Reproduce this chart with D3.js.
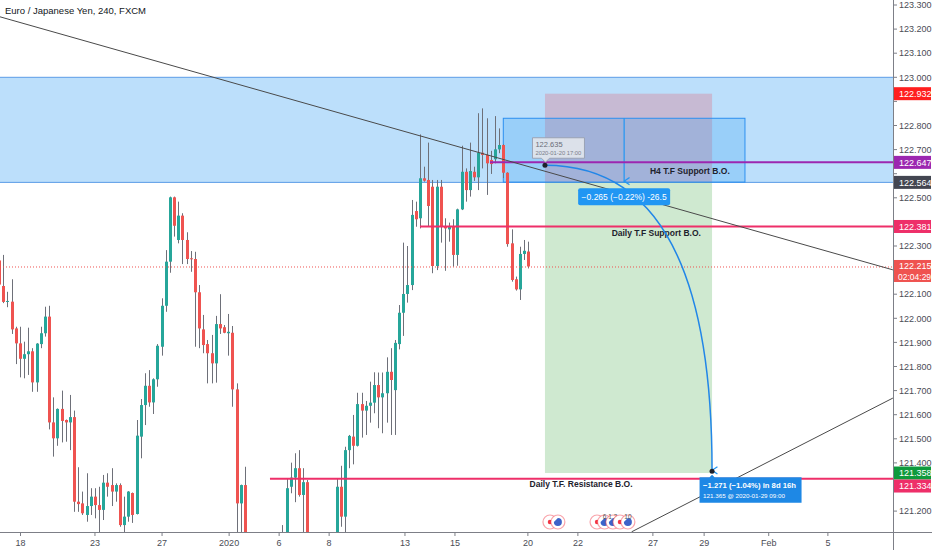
<!DOCTYPE html>
<html><head><meta charset="utf-8">
<script src="https://cdn.jsdelivr.net/npm/d3@7"></script>
<style>
body{margin:0;background:#fff;}
svg{display:block;font-family:"Liberation Sans",Arial,sans-serif;}
</style>
</head><body>
<svg id="chart" width="932" height="550"></svg>
<script>
// ---------------- DATA ----------------
const title = "Euro / Japanese Yen, 240, FXCM";
// 4h candles (bar index 0..127)
const opens  = [122.24,122.134,122.068,122.069,121.958,121.896,121.832,121.851,121.863,121.734,121.893,121.938,122.007,121.568,121.502,121.624,121.578,121.568,121.590,121.239,121.232,121.184,121.221,121.260,121.225,121.205,121.318,121.308,121.281,121.308,121.142,121.177,121.275,121.188,121.509,121.640,121.720,121.651,121.747,121.882,122.052,122.235,122.502,122.325,122.426,122.325,122.249,122.246,122.108,121.954,121.893,121.855,121.813,121.976,121.963,121.938,121.940,121.705,121.232,121.308,121.08,121.00,121.04,120.99,121.02,121.05,121.01,121.04,121.06,121.10,121.301,121.339,121.378,121.267,121.320,121.05,120.98,121.01,121.03,121.00,121.04,121.07,121.301,121.177,121.453,121.509,121.471,121.644,121.617,121.637,121.650,121.723,121.672,121.689,121.778,121.702,121.893,122.023,122.101,122.138,122.445,122.415,122.581,122.574,122.546,122.217,122.546,122.383,122.369,122.383,122.263,122.452,122.608,122.532,122.608,122.585,122.687,122.678,122.657,122.660,122.701,122.719,122.604,122.311,122.162,122.120,122.267,122.277];
const highs  = [122.30,122.263,122.110,122.162,121.965,121.965,121.903,121.961,121.876,121.897,121.965,122.048,122.052,121.672,121.626,121.700,121.580,121.682,121.617,121.382,121.281,121.357,121.295,121.295,121.301,121.350,121.357,121.378,121.315,121.315,121.260,121.283,121.277,121.578,121.665,121.772,121.785,121.751,121.893,122.083,122.283,122.505,122.505,122.484,122.436,122.357,122.279,122.276,122.138,122.014,121.910,121.931,122.010,122.100,121.972,122.018,121.968,121.730,121.310,121.384,121.10,121.06,121.09,121.05,121.08,121.09,121.07,121.10,121.142,121.337,121.401,121.440,121.453,121.378,121.329,121.09,121.04,121.07,121.08,121.06,121.10,121.336,121.388,121.467,121.516,121.599,121.691,121.691,121.657,121.737,121.776,121.775,121.775,121.838,121.876,121.910,122.055,122.314,122.300,122.491,122.484,122.763,122.629,122.729,122.574,122.574,122.574,122.415,122.397,122.411,122.455,122.716,122.622,122.729,122.629,122.851,122.871,122.830,122.695,122.839,122.788,122.722,122.606,122.369,122.173,122.297,122.325,122.318];
const lows   = [122.12,122.063,122.046,121.935,121.810,121.755,121.751,121.765,121.695,121.695,121.876,121.924,121.539,121.426,121.471,121.485,121.488,121.453,121.197,121.197,121.184,121.156,121.184,121.170,121.080,121.163,121.260,121.221,121.239,121.135,121.090,121.156,121.151,121.186,121.419,121.557,121.633,121.603,121.716,121.845,122.027,122.189,122.339,122.311,122.225,122.225,122.193,121.882,121.876,121.855,121.730,121.730,121.733,121.935,121.938,121.845,121.633,121.050,121.050,121.030,120.98,120.95,120.97,120.93,120.98,120.99,120.96,121.00,121.02,121.08,121.274,121.237,121.260,121.100,121.000,120.95,120.92,120.96,120.99,120.95,121.00,121.06,121.135,121.100,121.378,121.394,121.468,121.505,121.516,121.567,121.606,121.544,121.523,121.567,121.516,121.516,121.871,121.927,122.065,122.117,122.380,122.373,122.567,122.383,122.187,122.200,122.314,122.197,122.318,122.214,122.218,122.449,122.484,122.505,122.570,122.532,122.622,122.512,122.599,122.643,122.685,122.582,122.297,122.152,122.115,122.076,122.242,122.207];
const closes = [122.14,122.068,122.072,121.954,121.896,121.832,121.851,121.863,121.734,121.895,121.938,122.007,121.568,121.502,121.624,121.574,121.568,121.590,121.239,121.229,121.191,121.221,121.260,121.225,121.205,121.318,121.301,121.281,121.308,121.142,121.177,121.281,121.184,121.513,121.640,121.720,121.651,121.747,121.886,122.052,122.235,122.502,122.384,122.426,122.325,122.246,122.245,122.108,121.958,121.889,121.855,121.813,121.976,121.958,121.940,121.944,121.705,121.232,121.308,121.080,121.00,121.04,120.99,121.02,121.05,121.01,121.04,121.06,121.10,121.295,121.339,121.378,121.267,121.320,121.050,120.98,121.01,121.03,121.00,121.04,121.07,121.301,121.177,121.453,121.512,121.471,121.644,121.617,121.637,121.650,121.723,121.672,121.689,121.778,121.744,121.898,122.023,122.101,122.138,122.429,122.411,122.581,122.571,122.466,122.217,122.546,122.380,122.373,122.383,122.263,122.452,122.608,122.532,122.611,122.585,122.687,122.678,122.643,122.640,122.701,122.719,122.604,122.308,122.159,122.120,122.267,122.280,122.215];

// date axis: labels at bar-index positions
const dateTickPos    = [5.13,23.0,39.1,55.2,67.2,79.2,97.4,109.4,126.9,138.9,156.9,169.2,184.7,198.9];
const dateTickLabels = ["18","23","27","2020","6","8","13","15","20","22","27","29","Feb","5"];
// price axis ticks
const priceTicks = [121.2,121.3,121.4,121.5,121.6,121.7,121.8,121.9,122.0,122.1,122.2,122.3,122.4,122.5,122.6,122.7,122.8,122.9,123.0,123.1,123.2,123.3];

// drawings
const zoneTop = 123.000, zoneBottom = 122.564;
const posStart = 131, posEnd = 171.1, posEntry = 122.564, posStop = 122.932, posTarget = 121.358;
const rangeStart = 121, rangeEnd = 179, rangeTop = 122.830, rangeBottom = 122.565, rangeArrowAt = 150;
const rangeLabel = "\u22120.265 (\u22120.22%) -26.5";
const hLines = [
  {price:122.647, from:117.8, color:"#9c27b0", label:"H4 T.F Support B.O.", labelAt:156.2, dy:11.5},
  {price:122.381, from:101.0, color:"#ee2f69", label:"Daily T.F Support B.O.", labelAt:147.0, dy:9.5},
  {price:121.334, from:65.0,  color:"#ee2f69", label:"Daily T.F. Resistance B.O.", labelAt:127.3, dy:8.5}
];
const trendLines = [
  [[0,123.252],[214.5,122.201]],
  [[151.8,121.114],[214.5,121.669]]
];
const currentPrice = 122.215, countdown = "02:04:29";
const forecastFrom = {i:131, price:122.635, l1:"122.635", l2:"2020-01-20 17:00"};
const forecastTo   = {i:171.1, price:121.365, l1:"\u22121.271 (\u22121.04%) in 8d 16h", l2:"121.365 @ 2020-01-29  09:00"};
const priceLabels = [
  {p:122.932, c:"#ff1f1f"},
  {p:122.647, c:"#9c27b0"},
  {p:122.564, c:"#434651"},
  {p:122.381, c:"#ee2f69"},
  {p:121.358, c:"#0e9a3c"},
  {p:121.334, c:"#ee2f69"}
];
const events = [
  {i:132.2, k:"eco"},{i:134.1, k:"idea"},
  {i:143.5, k:"eco"},{i:145.3, k:"idea", t:"6"},{i:147.3, k:"idea", t:"1 2"},{i:149.0, k:"eco"},{i:150.9, k:"idea", t:"10"}
];

// ---------------- CHART ----------------
const W = 932, H = 550, plotR = 893, plotB = 532;
const svg = d3.select("#chart");
const x = d3.scaleLinear().domain([0,127]).range([-0.87,528.3]);
const y = d3.scaleLinear().domain([121.1,123.3]).range([535.2,5]);

const defs = svg.append("defs");
defs.append("clipPath").attr("id","plot").append("rect").attr("x",0).attr("y",0).attr("width",plotR).attr("height",plotB);
defs.append("marker").attr("id","arrowB").attr("viewBox","0 0 10 10").attr("refX",5).attr("refY",9)
  .attr("markerWidth",9).attr("markerHeight",9).attr("orient","auto-start-reverse").attr("markerUnits","userSpaceOnUse")
  .append("path").attr("d","M1,3 L5,9 L9,3").attr("fill","none").attr("stroke","#2196f3").attr("stroke-width",1.4);

const g = svg.append("g").attr("clip-path","url(#plot)");

// zone
g.append("rect").attr("x",0).attr("width",plotR)
  .attr("y",y(zoneTop)).attr("height",y(zoneBottom)-y(zoneTop))
  .attr("fill","rgba(33,150,243,0.3)");
g.append("line").attr("x1",0).attr("x2",plotR).attr("y1",y(zoneTop)).attr("y2",y(zoneTop)).attr("stroke","#5a9be6").attr("stroke-width",1);
g.append("line").attr("x1",0).attr("x2",plotR).attr("y1",y(zoneBottom)).attr("y2",y(zoneBottom)).attr("stroke","#5a9be6").attr("stroke-width",1);

// position boxes
g.append("rect").attr("x",x(posStart)).attr("width",x(posEnd)-x(posStart))
  .attr("y",y(posStop)).attr("height",y(posEntry)-y(posStop)).attr("fill","rgba(242,54,69,0.22)");
g.append("rect").attr("x",x(posStart)).attr("width",x(posEnd)-x(posStart))
  .attr("y",y(posEntry)).attr("height",y(posTarget)-y(posEntry)).attr("fill","rgba(76,175,80,0.27)");

// price range tool
g.append("rect").attr("x",x(rangeStart)).attr("width",x(rangeEnd)-x(rangeStart))
  .attr("y",y(rangeTop)).attr("height",y(rangeBottom)-y(rangeTop))
  .attr("fill","rgba(33,150,243,0.22)").attr("stroke","#2b8ff0").attr("stroke-width",1);
g.append("line").attr("x1",x(rangeArrowAt)).attr("x2",x(rangeArrowAt)).attr("y1",y(rangeTop)).attr("y2",y(rangeBottom)-1)
  .attr("stroke","#2196f3").attr("stroke-width",1.2).attr("marker-end","url(#arrowB)");

// candles
const idx = d3.range(opens.length);
const cg = g.append("g");
cg.selectAll("line.w").data(idx).join("line").attr("class","w")
  .attr("x1",i=>Math.round(x(i))+0.5).attr("x2",i=>Math.round(x(i))+0.5)
  .attr("y1",i=>y(highs[i])).attr("y2",i=>y(lows[i]))
  .attr("stroke","#6e7079").attr("stroke-width",1);
cg.selectAll("rect.b").data(idx).join("rect").attr("class","b")
  .attr("x",i=>Math.round(x(i))-1).attr("width",3)
  .attr("y",i=>y(Math.max(opens[i],closes[i])))
  .attr("height",i=>Math.max(1,Math.abs(y(opens[i])-y(closes[i]))))
  .attr("fill",i=>closes[i]>=opens[i]?"#26a69a":"#ef5350");

// current price line
g.append("line").attr("x1",0).attr("x2",plotR).attr("y1",y(currentPrice)+0.5).attr("y2",y(currentPrice)+0.5)
  .attr("stroke","#ef5350").attr("stroke-width",1).attr("stroke-dasharray","1,2");

// horizontal lines
hLines.forEach(h=>{
  g.append("line").attr("x1",x(h.from)).attr("x2",plotR).attr("y1",y(h.price)).attr("y2",y(h.price))
    .attr("stroke",h.color).attr("stroke-width",2);
  g.append("text").attr("x",x(h.labelAt)).attr("y",y(h.price)+h.dy).text(h.label)
    .attr("font-size",8.5).attr("font-weight","bold").attr("fill","#1e222d");
});

// trend lines
trendLines.forEach(t=>{
  g.append("line").attr("x1",x(t[0][0])).attr("y1",y(t[0][1])).attr("x2",x(t[1][0])).attr("y2",y(t[1][1]))
    .attr("stroke","#4a4a4a").attr("stroke-width",1);
});

// forecast
const sx = x(forecastFrom.i), sy = y(forecastFrom.price), tx = x(forecastTo.i), ty = y(forecastTo.price);
g.append("path").attr("d",`M${sx},${sy} Q${tx},${sy} ${tx},${ty-1}`)
  .attr("fill","none").attr("stroke","#2186e8").attr("stroke-width",1.5).attr("marker-end","url(#arrowB)");
g.append("circle").attr("cx",sx).attr("cy",sy).attr("r",2.5).attr("fill","#1e222d");
g.append("circle").attr("cx",tx).attr("cy",ty).attr("r",2.5).attr("fill","#1e222d");

// range label (above the curve)
const rx = x(rangeArrowAt);
const rby = y(rangeBottom);
g.append("rect").attr("x",rx-46).attr("y",rby+6).attr("width",92).attr("height",17).attr("rx",2).attr("fill","#2196f3");
g.append("text").attr("x",rx).attr("y",rby+18).attr("text-anchor","middle").attr("fill","#fff").attr("font-size",8.5).text(rangeLabel);

// source label
g.append("path").attr("d",`M${sx-12.5},${sy-27.5} h52 v20.5 h-35 l-4,4 l-4,-4 h-9 z`)
  .attr("fill","rgba(225,229,236,0.92)").attr("stroke","#9aa3b5").attr("stroke-width",1);
g.append("text").attr("x",sx-9.5).attr("y",sy-18.5).attr("font-size",7.5).attr("fill","#6a6d78").text(forecastFrom.l1);
g.append("text").attr("x",sx-9.5).attr("y",sy-10).attr("font-size",5.8).attr("fill","#7a7d88").text(forecastFrom.l2);
// target label
g.append("path").attr("d",`M${tx-12.5},${ty+6} h10 l2.5,-2.5 l2.5,2.5 h87 v25.5 h-102 z`).attr("fill","#1e88e5");
g.append("text").attr("x",tx-9).attr("y",ty+16.5).attr("font-size",8).attr("font-weight","bold").attr("fill","#fff")
  .attr("textLength",93).attr("lengthAdjust","spacingAndGlyphs").text(forecastTo.l1);
g.append("text").attr("x",tx-9).attr("y",ty+27).attr("font-size",6.2).attr("fill","#fff")
  .attr("textLength",82).attr("lengthAdjust","spacingAndGlyphs").text(forecastTo.l2);

// events
const ev = g.append("g");
events.forEach(e=>{
  const ex = x(e.i), ey = 522;
  ev.append("circle").attr("cx",ex).attr("cy",ey).attr("r",7).attr("fill","#fff").attr("stroke","rgba(242,54,69,0.45)").attr("stroke-width",1.2);
  if(e.k==="eco") ev.append("circle").attr("cx",ex).attr("cy",ey).attr("r",2.2).attr("fill","#f23645");
  else ev.append("path").attr("d",`M${ex-4},${ey} a4,4 0 0 0 8,0 a4,4 0 0 0 -4,-4 z`).attr("fill","#3d63c9");
  if(e.t) ev.append("text").attr("x",ex).attr("y",ey-3).attr("text-anchor","middle").attr("font-size",6.5).attr("fill","#555").text(e.t);
});

// ---------------- AXES ----------------
svg.append("line").attr("x1",0).attr("x2",W).attr("y1",plotB+0.5).attr("y2",plotB+0.5).attr("stroke","#7d7f87");
svg.append("line").attr("x1",plotR+0.5).attr("x2",plotR+0.5).attr("y1",0).attr("y2",H).attr("stroke","#7d7f87");

const xa = svg.append("g");
dateTickPos.forEach((p,k)=>{
  const px = x(p);
  xa.append("line").attr("x1",px).attr("x2",px).attr("y1",plotB).attr("y2",plotB+4).attr("stroke","#7d7f87");
  xa.append("text").attr("x",px).attr("y",546).attr("text-anchor","middle").attr("font-size",9).attr("fill","#4a4c55").text(dateTickLabels[k]);
});

// lay out colored price labels so they don't overlap
const placed = priceLabels.map(l=>({...l, py:y(l.p)})).sort((a,b)=>a.py-b.py);
for(let k=1;k<placed.length;k++){
  if(placed[k].py < placed[k-1].py+13) placed[k].py = placed[k-1].py+13;
}
const boxes = placed.map(l=>[l.py-6.5,l.py+6.5]).concat([[y(currentPrice)-6.5,y(currentPrice)+15.5]]);

const ya = svg.append("g");
priceTicks.forEach(p=>{
  const py = y(p);
  ya.append("line").attr("x1",plotR).attr("x2",plotR+4).attr("y1",py).attr("y2",py).attr("stroke","#7d7f87");
  const hidden = boxes.some(b=>py+3>b[0] && py-3<b[1]);
  if(!hidden) ya.append("text").attr("x",plotR+6).attr("y",py+3.2).attr("font-size",9).attr("fill","#4a4c55").text(p.toFixed(3));
});

placed.forEach(l=>{
  ya.append("rect").attr("x",plotR+1).attr("y",l.py-6.5).attr("width",W-plotR-2).attr("height",13).attr("fill",l.c);
  ya.append("text").attr("x",plotR+6).attr("y",l.py+3.2).attr("font-size",9).attr("fill","#fff").text(l.p.toFixed(3));
});
// current price + countdown
{
  const py = y(currentPrice);
  ya.append("rect").attr("x",plotR+1).attr("y",py-6.5).attr("width",W-plotR-2).attr("height",22).attr("fill","#ef5350");
  ya.append("text").attr("x",plotR+6).attr("y",py+3).attr("font-size",9).attr("fill","#fff").text(currentPrice.toFixed(3));
  ya.append("text").attr("x",plotR+5).attr("y",py+13.5).attr("font-size",8.5).attr("fill","#fff").text(countdown);
}

// title
svg.append("text").attr("x",5).attr("y",14).attr("font-size",9.5).attr("fill","#131722").text(title);
</script>
</body></html>
